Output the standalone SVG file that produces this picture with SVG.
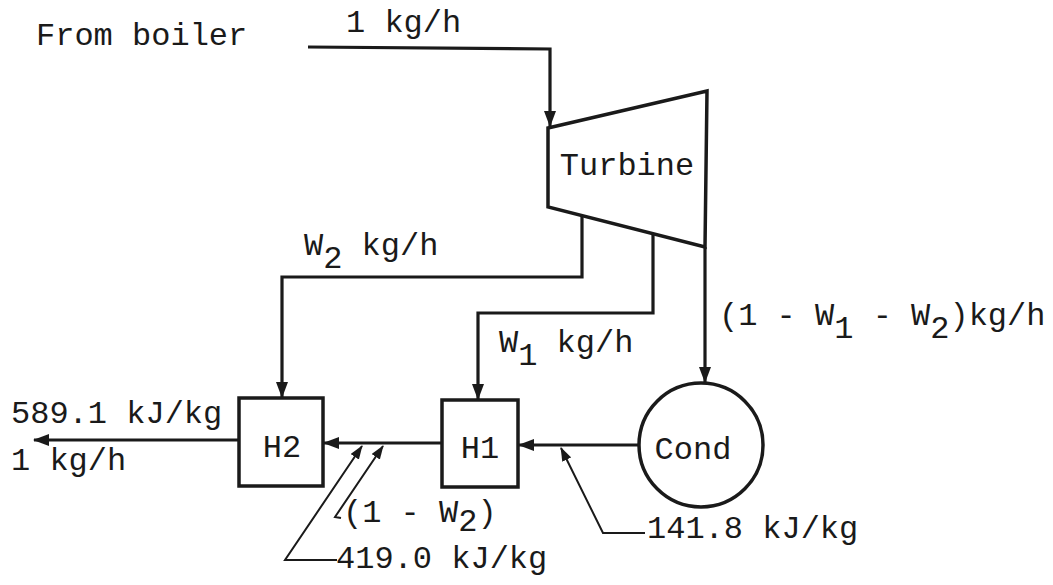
<svg xmlns="http://www.w3.org/2000/svg" width="1053" height="585" viewBox="0 0 1053 585">
<defs>
<style>
text{font-family:"Liberation Mono","Courier New",monospace;font-size:32px;fill:#1a1a1a}
.flow{fill:none;stroke:#1a1a1a;stroke-width:3.2;stroke-linejoin:miter}
.lead{fill:none;stroke:#1a1a1a;stroke-width:2}
.node{fill:#fff;stroke:#1a1a1a;stroke-width:3.5}
.mid{text-anchor:middle}
</style>
<marker id="arr" markerWidth="16" markerHeight="12" refX="15" refY="6" orient="auto" markerUnits="userSpaceOnUse">
<path d="M0,0 L16,6 L0,12 Z" fill="#1a1a1a"/>
</marker>
<marker id="arrs" markerWidth="14" markerHeight="10" refX="13" refY="5" orient="auto" markerUnits="userSpaceOnUse">
<path d="M0,0 L14,5 L0,10 Z" fill="#1a1a1a"/>
</marker>
</defs>
<rect width="1053" height="585" fill="#fff"/>
<g id="connectors">
<polyline class="flow" points="308,47 550,49 550,126" marker-end="url(#arr)"/>
<polyline class="flow" points="582,216 582,277 282,277 282,397" marker-end="url(#arr)"/>
<polyline class="flow" points="653,234 653,313 478,313 478,399" marker-end="url(#arr)"/>
<polyline class="flow" points="705,247 705,382" marker-end="url(#arr)"/>
<polyline class="flow" points="639,445 519,445" marker-end="url(#arr)"/>
<polyline class="flow" points="442,443 324,443" marker-end="url(#arr)"/>
<polyline class="flow" points="239,440 34,440" marker-end="url(#arr)"/>
<polyline class="lead" points="337,560 285,560 362,446" marker-end="url(#arrs)"/>
<polyline class="lead" points="341,518 335,517 383,446" marker-end="url(#arrs)"/>
<polyline class="lead" points="645,533 603,533 561,448" marker-end="url(#arrs)"/>
</g>
<g id="turbine">
<polygon class="node" points="548,128 707,91 705,247 548,207"/>
<text x="627" y="175" class="mid">Turbine</text>
</g>
<g id="H2">
<rect class="node" x="239" y="398" width="84" height="88"/>
<text x="282" y="457" class="mid">H2</text>
</g>
<g id="H1">
<rect class="node" x="442" y="400" width="76" height="87"/>
<text x="480" y="458" class="mid">H1</text>
</g>
<g id="cond">
<circle class="node" cx="701" cy="445" r="62"/>
<text x="693" y="459" class="mid">Cond</text>
</g>
<g id="labels">
<text x="36" y="45">From boiler</text>
<text x="346" y="32">1 kg/h</text>
<text x="304" y="255">W<tspan dy="13">2</tspan><tspan dy="-13"> kg/h</tspan></text>
<text x="499" y="352">W<tspan dy="13">1</tspan><tspan dy="-13"> kg/h</tspan></text>
<text x="719" y="325">(1 - W<tspan dy="13">1</tspan><tspan dy="-13"> - W</tspan><tspan dy="13">2</tspan><tspan dy="-13">)kg/h</tspan></text>
<text x="11" y="423">589.1 kJ/kg</text>
<text x="11" y="470">1 kg/h</text>
<text x="343" y="522">(1 - W<tspan dy="9">2</tspan><tspan dy="-9">)</tspan></text>
<text x="336" y="568">419.0 kJ/kg</text>
<text x="647" y="538">141.8 kJ/kg</text>
</g>
</svg>
